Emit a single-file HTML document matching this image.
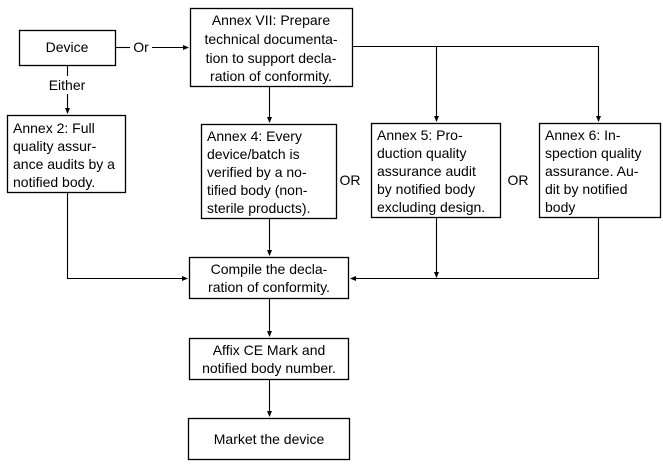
<!DOCTYPE html>
<html><head><style>
html,body{margin:0;padding:0;background:#fff;}
svg text{font-family:"Liberation Sans",sans-serif;font-size:14px;fill:#000;}
</style></head><body>
<svg width="663" height="467" viewBox="0 0 663 467" xmlns="http://www.w3.org/2000/svg">
<defs><marker id="a" markerWidth="6" markerHeight="6" refX="5" refY="3" orient="auto" markerUnits="userSpaceOnUse"><path d="M0,0.5 L6,3 L0,5.5 z" fill="#000"/></marker></defs>
<g fill="none" stroke="#000" stroke-width="1.3">
<rect x="19.5" y="30.5" width="96" height="35"/>
<rect x="190.5" y="8.5" width="162" height="78"/>
<rect x="7.5" y="115.5" width="118" height="77"/>
<rect x="201.5" y="124.5" width="135" height="94"/>
<rect x="371.5" y="123.5" width="129" height="94"/>
<rect x="539.5" y="123.5" width="121" height="94"/>
<rect x="189.5" y="257.5" width="159" height="41"/>
<rect x="189.5" y="338.5" width="159" height="41"/>
<rect x="188.5" y="418.5" width="161" height="41"/>
</g>
<g fill="none" stroke="#000" stroke-width="1.1">
<path d="M115.5,47.5 H130"/><path d="M152,47.5 H188" marker-end="url(#a)"/>
<path d="M67.5,65.5 V76"/><path d="M67.5,94 V113" marker-end="url(#a)"/>
<path d="M352.5,46.5 H598.5 V121" marker-end="url(#a)"/>
<path d="M436.5,46.5 V121" marker-end="url(#a)"/>
<path d="M269.5,86.5 V122" marker-end="url(#a)"/>
<path d="M67.5,192.5 V278.5 H187" marker-end="url(#a)"/>
<path d="M269.5,218.5 V255" marker-end="url(#a)"/>
<path d="M436.5,217.5 V277" marker-end="url(#a)"/>
<path d="M598.5,217.5 V278.5 H351" marker-end="url(#a)"/>
<path d="M269.5,298.5 V336" marker-end="url(#a)"/>
<path d="M269.5,379.5 V416" marker-end="url(#a)"/>
</g>
<g text-anchor="middle">
<text x="67" y="52">Device</text>
<text x="141" y="52">Or</text>
<text x="67" y="90">Either</text>
<text x="271" y="25">Annex VII: Prepare</text>
<text x="271" y="44">technical documenta-</text>
<text x="271" y="63">tion to support decla-</text>
<text x="271" y="81">ration of conformity.</text>
<text x="350" y="185">OR</text>
<text x="518" y="185">OR</text>
<text x="269" y="274">Compile the decla-</text>
<text x="269" y="292">ration of conformity.</text>
<text x="269" y="355">Affix CE Mark and</text>
<text x="269" y="373">notified body number.</text>
<text x="269" y="444">Market the device</text>
</g>
<text x="13" y="133">Annex 2:  Full</text>
<text x="13" y="151">quality assur-</text>
<text x="13" y="169">ance audits by a</text>
<text x="13" y="187">notified body.</text>
<text x="207" y="141">Annex 4:  Every</text>
<text x="207" y="159">device/batch is</text>
<text x="207" y="177">verified by a no-</text>
<text x="207" y="195">tified body (non-</text>
<text x="207" y="213">sterile products).</text>
<text x="377" y="140">Annex 5:  Pro-</text>
<text x="377" y="158">duction quality</text>
<text x="377" y="176">assurance audit</text>
<text x="377" y="194">by notified body</text>
<text x="377" y="212">excluding design.</text>
<text x="545" y="140">Annex 6:  In-</text>
<text x="545" y="158">spection quality</text>
<text x="545" y="176">assurance.  Au-</text>
<text x="545" y="194">dit by notified</text>
<text x="545" y="212">body</text>
</svg>
</body></html>
